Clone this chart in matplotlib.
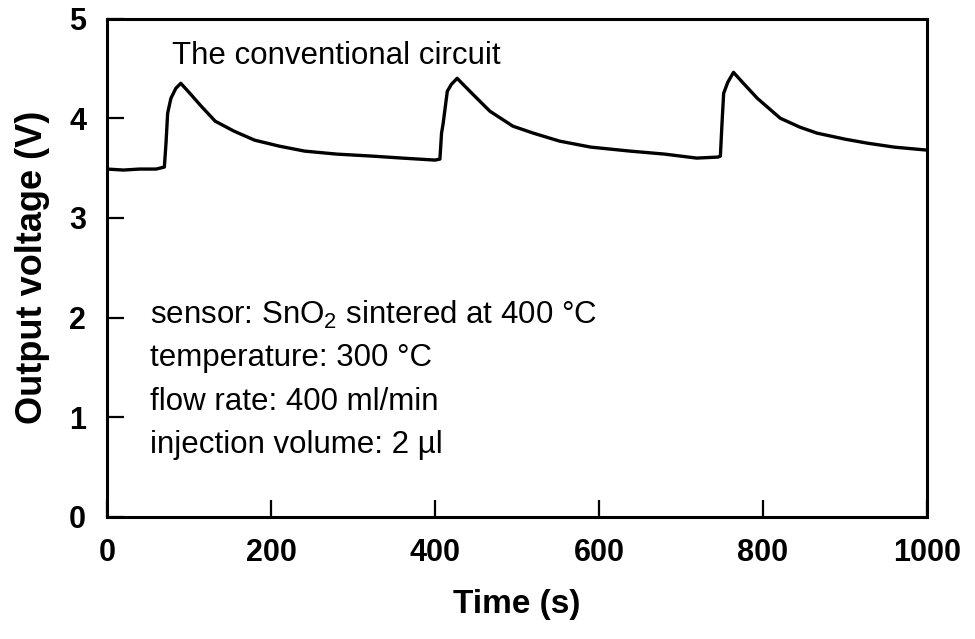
import matplotlib
matplotlib.use("Agg")
import matplotlib.pyplot as plt

plt.rcParams['font.family'] = ['Liberation Sans', 'DejaVu Sans']
plt.rcParams['mathtext.fontset'] = 'custom'
plt.rcParams['mathtext.rm'] = 'Liberation Sans'

# response (time in s, output voltage in V)
time_s = [0, 20, 40, 60, 70, 72, 74, 78, 84, 90, 100, 115, 132, 155, 180,
          210, 241, 280, 323, 360, 400, 406, 408, 410, 415, 420, 427, 445,
          467, 495, 520, 552, 590, 638, 680, 719, 745, 748, 750, 752, 757,
          764, 775, 793, 821, 845, 866, 900, 927, 960, 1000]
voltage = [3.49, 3.48, 3.49, 3.49, 3.51, 3.75, 4.05, 4.20, 4.30, 4.35, 4.26,
           4.12, 3.97, 3.87, 3.78, 3.72, 3.67, 3.64, 3.62, 3.60, 3.58, 3.59,
           3.85, 3.95, 4.27, 4.34, 4.40, 4.25, 4.07, 3.92, 3.85, 3.77, 3.71,
           3.67, 3.64, 3.60, 3.61, 3.62, 3.95, 4.25, 4.36, 4.46, 4.36, 4.20,
           4.00, 3.91, 3.85, 3.79, 3.75, 3.71, 3.68]

x_ticks = [0, 200, 400, 600, 800, 1000]
y_ticks = [0, 1, 2, 3, 4, 5]

title_text = "The conventional circuit"
info_lines = ["sensor: SnO$_2$ sintered at 400 \u00b0C",
              "temperature: 300 \u00b0C",
              "flow rate: 400 ml/min",
              "injection volume: 2 \u00b5l"]
info_y = [1.94, 1.51, 1.07, 0.64]

fig = plt.figure(figsize=(9.75, 6.39), dpi=100)
ax = fig.add_axes([0.1097, 0.191, 0.8411, 0.780])

ax.plot(time_s, voltage, color='black', linewidth=2.4)

ax.set_xlim(0, 1000)
ax.set_ylim(0, 5)
ax.set_xticks(x_ticks)
ax.set_yticks(y_ticks)
ax.tick_params(direction='in', length=12, width=1.6, labelsize=22, pad=15,
               top=False, right=False)
for lab in ax.get_xticklabels() + ax.get_yticklabels():
    lab.set_fontweight('bold')
for sp in ax.spines.values():
    sp.set_linewidth(2.2)

ax.set_xlabel("Time (s)", fontsize=24, fontweight='bold', labelpad=15)
ax.set_ylabel("Output voltage (V)", fontsize=26, fontweight='bold', labelpad=14)

ax.text(79, 4.54, title_text, fontsize=22.5, va='baseline')
for line, yy in zip(info_lines, info_y):
    ax.text(52, yy, line, fontsize=22.5, va='baseline')

fig.savefig("out.png", dpi=100)
